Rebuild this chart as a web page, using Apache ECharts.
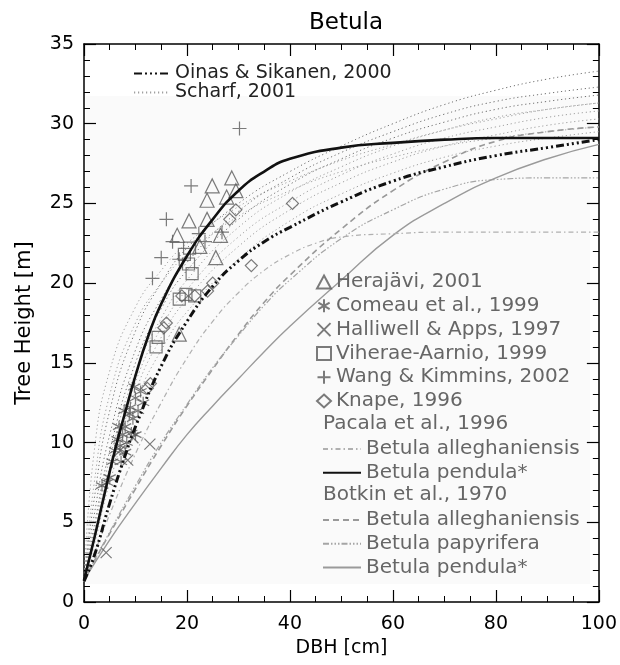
<!DOCTYPE html>
<html>
<head>
<meta charset="utf-8">
<script src="https://cdn.jsdelivr.net/npm/echarts@6/dist/echarts.min.js"></script>
<style>html,body{margin:0;padding:0;background:#fff}#c{width:620px;height:665px}</style>
</head>
<body>
<div id="c"></div>
<script>
// ---------- data ----------
const xTicks = [0, 20, 40, 60, 80, 100];
const yTicks = [0, 5, 10, 15, 20, 25, 30, 35];

const oinasDbh = [0, 2, 5, 8, 10, 15, 20, 25, 30, 35, 40, 50, 60, 70, 80, 90, 100];
const oinasH   = [1.3, 2.9, 6.2, 9.2, 11.0, 14.8, 17.6, 19.8, 21.4, 22.6, 23.5, 25.1, 26.4, 27.3, 28.0, 28.5, 29.0];

const scharfDbh = [0, 2, 5, 10, 15, 20, 30, 40, 50, 60, 70, 80, 90, 100];
const scharfA = [1.3, 6.5, 12.0, 17.0, 20.0, 22.2, 25.0, 27.0, 28.6, 30.0, 31.2, 32.1, 32.8, 33.3];
const scharfB = [1.3, 5.5, 10.5, 15.8, 19.0, 21.3, 24.5, 26.6, 28.2, 29.5, 30.6, 31.4, 31.9, 32.3];
const scharfC = [1.3, 4.8, 9.5, 15.0, 18.4, 20.8, 24.0, 26.2, 27.8, 29.1, 30.1, 30.9, 31.4, 31.8];
const scharfD = [1.3, 4.5, 9.0, 14.4, 17.8, 20.2, 23.5, 25.7, 27.3, 28.6, 29.6, 30.4, 30.9, 31.3];
const scharfE = [1.3, 4.2, 8.5, 13.8, 17.2, 19.6, 22.9, 25.1, 26.8, 28.1, 29.1, 29.8, 30.4, 30.8];
const scharfF = [1.3, 3.9, 8.0, 13.2, 16.6, 19.0, 22.3, 24.6, 26.3, 27.6, 28.6, 29.3, 29.9, 30.3];
const scharfG = [1.3, 7.5, 13.0, 17.5, 20.0, 21.8, 24.2, 25.8, 27.0, 27.9, 28.6, 29.1, 29.5, 29.8];
const scharfH = [1.3, 3.6, 7.5, 12.5, 15.8, 18.2, 21.5, 23.9, 25.6, 26.9, 27.9, 28.6, 29.1, 29.5];
const scharfI = [1.3, 9.5, 14.5, 18.5, 20.8, 22.5, 24.8, 26.4, 27.7, 28.7, 29.6, 30.3, 30.9, 31.3];

const pacalaAllegDbh = [0, 5, 10, 15, 20, 25, 30, 35, 40, 45, 50, 60, 70, 80, 90, 100];
const pacalaAllegH   = [1.37, 5.5, 9.3, 12.5, 15.3, 17.6, 19.4, 20.8, 21.8, 22.5, 22.9, 23.1, 23.2, 23.2, 23.2, 23.2];

const pacalaPendDbh = [0, 2, 4, 6, 8, 10, 12.5, 15, 20, 25, 30, 35, 40, 50, 60, 70, 80, 90, 100];
const pacalaPendH   = [1.37, 4.0, 6.8, 9.5, 11.9, 14.2, 16.7, 18.7, 21.7, 24.0, 25.8, 27.0, 27.8, 28.5, 28.8, 29.0, 29.1, 29.1, 29.1];

const botkinDbh = [0, 5, 10, 15, 20, 25, 30, 35, 40, 50, 60, 70, 80, 90, 100];
const botkinAllegH = [1.37, 4.3, 7.1, 9.8, 12.3, 14.6, 16.8, 18.8, 20.5, 23.4, 25.8, 27.6, 28.9, 29.5, 29.8];
const botkinPapyH  = [1.37, 4.4, 7.3, 10.0, 12.4, 14.7, 16.7, 18.6, 20.2, 22.8, 24.6, 25.9, 26.5, 26.6, 26.6];
const botkinPendH  = [1.37, 3.9, 6.2, 8.4, 10.5, 12.3, 14.0, 15.7, 17.3, 20.2, 23.0, 25.0, 26.6, 27.8, 28.7];

const herajaviDbh = [28.7, 24.9, 29.5, 27.7, 23.9, 23.9, 20.4, 18.1, 25.6, 18.5, 22.5, 26.5];
const herajaviH   = [26.6, 26.1, 25.8, 25.4, 25.2, 24.0, 23.9, 23.0, 21.6, 16.8, 22.3, 23.0];

const comeauDbh = [3.5, 4.5, 5.5, 6.0, 6.5, 7.0, 7.5, 8.0, 8.3, 8.8, 9.0, 9.5, 10.0, 10.5, 11.0, 7.2, 8.0, 9.2, 6.8, 10.0, 5.0, 7.8, 11.5, 9.8];
const comeauH   = [7.3, 7.5, 8.8, 9.5, 10.2, 9.8, 10.5, 11.0, 10.0, 11.8, 12.2, 11.5, 12.8, 12.0, 13.2, 8.8, 9.4, 10.6, 11.0, 10.5, 7.8, 12.0, 12.5, 13.5];

const halliwellDbh = [4.3, 8.5, 12.8, 9.5, 7.0];
const halliwellH   = [3.1, 8.9, 9.9, 10.3, 9.5];

const viheraeDbh = [20.5, 20.3, 21.0, 19.8, 21.5, 18.5, 14.4, 14.0, 19.5];
const viheraeH   = [22.2, 21.2, 20.6, 19.3, 19.2, 19.0, 16.6, 16.0, 21.8];

const wangDbh = [30.2, 20.8, 16.0, 15.0, 13.3, 17.2, 22.3, 26.8, 23.5, 18.5];
const wangH   = [29.7, 26.1, 24.0, 21.6, 20.3, 22.6, 23.1, 23.2, 22.6, 21.5];

const knapeDbh = [40.5, 32.5, 29.5, 28.3, 25.0, 24.0, 21.5, 19.0, 12.3, 12.9, 16.0, 15.5];
const knapeH   = [25.0, 21.1, 24.6, 24.0, 20.0, 19.5, 19.2, 19.2, 13.4, 13.7, 17.5, 17.2];

// ---------- helpers ----------
const pairs = (xs, ys) => xs.map((x, i) => [x, ys[i]]);
const FONT = 'DejaVu Sans';

function lineSeries(name, xs, ys, color, width, type, z) {
  return {
    name, type: 'line', data: pairs(xs, ys), symbol: 'none', showSymbol: false, smooth: true,
    lineStyle: { color, width, type, cap: 'butt' }, itemStyle: { color }, z: z || 2,
    silent: true, animation: false
  };
}
function markSeries(name, xs, ys, symbol, size) {
  return {
    name, type: 'scatter', data: pairs(xs, ys), symbol, symbolSize: size,
    itemStyle: { color: 'rgba(0,0,0,0)', borderColor: '#5a5a5a', borderWidth: 1.2 },
    z: 3, silent: true, animation: false
  };
}

const scharfColor = '#a0a0a0';
const scharfTopColor = '#707070';
const scharfType = [1.2, 2.8];

const SYM_X = 'path://M0,0L10,10M10,0L0,10';
const SYM_PLUS = 'path://M5,0L5,10M0,5L10,5';
const SYM_AST = 'path://M5,0L5,10M0.67,2.5L9.33,7.5M9.33,2.5L0.67,7.5';

const scharfSets = [scharfF, scharfD, scharfE, scharfG, scharfH, scharfI];
const scharfTopSets = [scharfA, scharfB, scharfC];

const series = [
  ...scharfSets.map(s => lineSeries('Scharf, 2001', scharfDbh, s, scharfColor, 1, scharfType)),
  ...scharfTopSets.map(s => lineSeries('Scharf, 2001', scharfDbh, s, scharfTopColor, 1, scharfType)),
  lineSeries('Botkin|Betula alleghaniensis', botkinDbh, botkinAllegH, '#999', 1.6, [6, 4]),
  lineSeries('Botkin|Betula papyrifera', botkinDbh, botkinPapyH, '#a5a5a5', 1.2, [6, 2, 1.5, 2, 1.5, 2, 1.5, 2]),
  lineSeries('Botkin|Betula pendula*', botkinDbh, botkinPendH, '#9a9a9a', 1.4, 'solid'),
  lineSeries('Pacala|Betula alleghaniensis', pacalaAllegDbh, pacalaAllegH, '#b0b0b0', 1.2, [5, 3, 1.5, 3]),
  markSeries('Herajävi, 2001', herajaviDbh, herajaviH, 'triangle', 14),
  markSeries('Comeau et al., 1999', comeauDbh, comeauH, SYM_AST, 12),
  markSeries('Halliwell & Apps, 1997', halliwellDbh, halliwellH, SYM_X, 11),
  markSeries('Viherae-Aarnio, 1999', viheraeDbh, viheraeH, 'rect', 12),
  markSeries('Wang & Kimmins, 2002', wangDbh, wangH, SYM_PLUS, 14),
  markSeries('Knape, 1996', knapeDbh, knapeH, 'diamond', 12),
  lineSeries('Oinas & Sikanen, 2000', oinasDbh, oinasH, '#111', 3, [8, 3, 2, 3, 2, 3, 2, 3], 5),
  lineSeries('Pacala|Betula pendula*', pacalaPendDbh, pacalaPendH, '#111', 2.6, 'solid', 5)
];

const legendText = { fontFamily: FONT, fontSize: 20, color: '#666', lineHeight: 22 };
const stripName = n => n.split('|').pop();
const hideSymbol = { opacity: 0 };

const axisCommon = {
  type: 'value',
  axisLine: { show: true, onZero: false, lineStyle: { color: '#000', width: 1.5 } },
  axisTick: { show: true, inside: true, length: 12, lineStyle: { color: '#000', width: 1.2 } },
  minorTick: { show: true, length: 6, lineStyle: { color: '#000', width: 1 } },
  splitLine: { show: false }
};

const option = {
  animation: false,
  backgroundColor: '#fff',
  title: {
    text: 'Betula', left: 341, top: 7, textAlign: 'center',
    textStyle: { fontFamily: FONT, fontSize: 23, fontWeight: 'normal', color: '#000' }
  },
  grid: { left: 84, right: 17, top: 44, bottom: 63 },
  xAxis: [
    Object.assign({}, axisCommon, {
      min: 0, max: 100, interval: 20, position: 'bottom',
      minorTick: Object.assign({}, axisCommon.minorTick, { splitNumber: 4 }),
      axisLabel: { fontFamily: FONT, fontSize: 19, color: '#000', margin: 13,
        formatter: v => xTicks.includes(v) ? String(v) : '' },
      name: 'DBH [cm]', nameLocation: 'middle', nameGap: 37,
      nameTextStyle: { fontFamily: FONT, fontSize: 19, color: '#000' }
    }),
    Object.assign({}, axisCommon, {
      min: 0, max: 100, interval: 20, position: 'top',
      minorTick: Object.assign({}, axisCommon.minorTick, { splitNumber: 4 }),
      axisLabel: { show: false }
    })
  ],
  yAxis: [
    Object.assign({}, axisCommon, {
      min: 0, max: 35, interval: 5, position: 'left',
      minorTick: Object.assign({}, axisCommon.minorTick, { splitNumber: 5 }),
      axisLabel: { fontFamily: FONT, fontSize: 19, color: '#000', margin: 10,
        formatter: v => yTicks.includes(v) ? String(v) : '' },
      name: 'Tree Height [m]', nameLocation: 'middle', nameGap: 49,
      nameTextStyle: { fontFamily: FONT, fontSize: 21, color: '#000' }
    }),
    Object.assign({}, axisCommon, {
      min: 0, max: 35, interval: 5, position: 'right',
      minorTick: Object.assign({}, axisCommon.minorTick, { splitNumber: 5 }),
      axisLabel: { show: false }
    })
  ],
  legend: [
    {
      orient: 'vertical', left: 133, top: 64, padding: 0, itemGap: 0,
      itemWidth: 36, itemHeight: 12, selectedMode: false, itemStyle: hideSymbol,
      data: ['Oinas & Sikanen, 2000', 'Scharf, 2001'],
      textStyle: Object.assign({}, legendText, { color: '#222', fontSize: 19, lineHeight: 19 })
    },
    {
      orient: 'vertical', left: 316, top: 271, padding: 0, itemGap: 1.8,
      itemWidth: 14, itemHeight: 13, selectedMode: false,
      data: ['Herajävi, 2001', 'Comeau et al., 1999', 'Halliwell & Apps, 1997',
             'Viherae-Aarnio, 1999', 'Wang & Kimmins, 2002', 'Knape, 1996'],
      textStyle: legendText
    },
    {
      orient: 'vertical', left: 322, top: 438, padding: 0, itemGap: 1.8,
      itemWidth: 38, itemHeight: 12, selectedMode: false, itemStyle: hideSymbol,
      data: ['Pacala|Betula alleghaniensis', 'Pacala|Betula pendula*'],
      formatter: stripName, textStyle: legendText
    },
    {
      orient: 'vertical', left: 322, top: 509, padding: 0, itemGap: 1.8,
      itemWidth: 38, itemHeight: 12, selectedMode: false, itemStyle: hideSymbol,
      data: ['Botkin|Betula alleghaniensis', 'Botkin|Betula papyrifera', 'Botkin|Betula pendula*'],
      formatter: stripName, textStyle: legendText
    }
  ],
  graphic: [
    // very faint tinted patch of the scanned original, behind everything
    { type: 'rect', z: -10, silent: true, shape: { x: 86, y: 96, width: 504, height: 488 },
      style: { fill: '#fafafa' } },
    { type: 'text', left: 323, top: 414, silent: true,
      style: { text: 'Pacala et al., 1996', fontFamily: FONT, fontSize: 20, fill: '#666' } },
    { type: 'text', left: 323, top: 485, silent: true,
      style: { text: 'Botkin et al., 1970', fontFamily: FONT, fontSize: 20, fill: '#666' } }
  ],
  series
};

const chart = echarts.init(document.getElementById('c'), null, { renderer: 'canvas' });
chart.setOption(option);
</script>
</body>
</html>
